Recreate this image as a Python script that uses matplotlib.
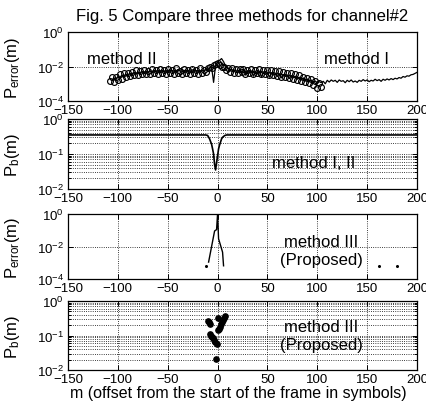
import numpy as np
import matplotlib
matplotlib.use("Agg")
import matplotlib.pyplot as plt
from matplotlib.ticker import NullLocator, FixedLocator

plt.rcParams['font.family'] = ['Liberation Sans', 'DejaVu Sans']
plt.rcParams['mathtext.fontset'] = 'custom'
plt.rcParams['mathtext.rm'] = 'Liberation Sans'
plt.rcParams['mathtext.it'] = 'Liberation Sans:italic'
plt.rcParams['mathtext.bf'] = 'Liberation Sans:bold'
plt.rcParams['mathtext.default'] = 'regular'

# ---------------- data ----------------
x_ticks = [-150, -100, -50, 0, 50, 100, 150, 200]

# Panel 1: method II (circles), log10 of P_error, m = -108..104 step 2
m2_start, m2_step = -108, 2
log_perr_method2 = [
    -2.85, -2.62, -2.90, -2.58, -2.78, -2.46, -2.70, -2.40, -2.62, -2.36,
    -2.55, -2.30, -2.48, -2.22, -2.50, -2.28, -2.44, -2.18, -2.46, -2.26,
    -2.42, -2.16, -2.38, -2.22, -2.46, -2.14, -2.36, -2.20, -2.44, -2.12,
    -2.40, -2.18, -2.44, -2.10, -2.36, -2.24, -2.42, -2.12, -2.38, -2.20,
    -2.44, -2.14, -2.36, -2.20, -2.42, -2.10, -2.38, -2.18, -2.32, -2.10,
    -2.00, -2.06, -1.90, -1.86, -1.78, -1.92, -2.04, -2.00, -2.20, -2.08,
    -2.30, -2.10, -2.36, -2.14, -2.40, -2.16, -2.34, -2.12, -2.42, -2.18,
    -2.38, -2.16, -2.44, -2.20, -2.40, -2.14, -2.46, -2.22, -2.42, -2.18,
    -2.48, -2.22, -2.50, -2.26, -2.54, -2.28, -2.58, -2.30, -2.60, -2.36,
    -2.64, -2.40, -2.70, -2.44, -2.76, -2.50, -2.82, -2.58, -2.88, -2.66,
    -2.96, -2.72, -3.10, -2.84, -3.22, -2.98, -3.20,
]

# Panel 1: method I (line), log10 of P_error, m = -106..200 step 2
m1_start, m1_step = -106, 2
log_perr_method1 = [
    -2.80, -2.66, -2.74, -2.58, -2.64, -2.50, -2.58, -2.44, -2.52, -2.40,
    -2.48, -2.36, -2.44, -2.32, -2.40, -2.30, -2.36, -2.26, -2.34, -2.24,
    -2.32, -2.22, -2.30, -2.20, -2.28, -2.20, -2.30, -2.22, -2.28, -2.18,
    -2.26, -2.20, -2.28, -2.18, -2.24, -2.16, -2.26, -2.20, -2.28, -2.18,
    -2.24, -2.16, -2.26, -2.22, -2.28, -2.20, -2.26, -2.18, -2.16, -2.10,
    -2.04, -2.92, -1.94, -1.76, -1.64, -1.54, -1.72, -1.96, -2.10, -2.20,
    -2.14, -2.30, -2.18, -2.40, -2.22, -2.36, -2.20, -2.50, -2.24, -2.38,
    -2.26, -2.56, -2.28, -2.44, -2.30, -2.60, -2.32, -2.46, -2.34, -2.62,
    -2.36, -2.50, -2.40, -2.58, -2.42, -2.66, -2.46, -2.58, -2.50, -2.70,
    -2.52, -2.66, -2.56, -2.74, -2.62, -2.78, -2.66, -2.84, -2.72, -2.88,
    -2.78, -2.92, -2.84, -2.96, -2.88, -2.94, -2.86, -3.00, -2.80, -2.90,
    -2.78, -2.86, -2.80, -2.92, -2.78, -2.86, -2.82, -2.94, -2.80, -2.88,
    -2.78, -2.90, -2.84, -2.92, -2.80, -2.86, -2.76, -2.84, -2.78, -2.88,
    -2.80, -2.84, -2.74, -2.82, -2.76, -2.86, -2.74, -2.80, -2.72, -2.78,
    -2.70, -2.76, -2.68, -2.72, -2.64, -2.68, -2.58, -2.62, -2.54, -2.56,
    -2.48, -2.46, -2.40, -2.34,
]

# Panel 2: P_b for methods I, II
pb12_m = [-150, -12, -10, -8, -6, -5, -4, -3, -2, 1, 2, 3, 4, 5, 7, 9, 200]
pb12 = [0.35, 0.35, 0.34, 0.27, 0.19, 0.14, 0.10, 0.05, 0.035, 0.14, 0.18,
        0.22, 0.27, 0.30, 0.335, 0.35, 0.35]

# Panel 3: P_error for method III
perr3_m = [-9, -3, -1, 0, 1, 5, 6]
perr3 = [1.1e-3, 0.09, 0.11, 1.0, 0.03, 4.5e-3, 6.5e-4]
perr3_dots_m = [-12, 162, 180]
perr3_dots = [6e-4, 6.5e-4, 6.5e-4]

# Panel 4: P_b for method III
pb3_m = [-10, -9, -8, -8, -7, -6, -5, -4, -3, -1, -2, 0, 1, 2, 3, 4, 5, 6, 7, 0]
pb3 = [0.27, 0.25, 0.22, 0.11, 0.10, 0.09, 0.085, 0.075, 0.065, 0.058, 0.021,
       0.14, 0.15, 0.18, 0.21, 0.25, 0.29, 0.33, 0.37, 0.32]

# ---------------- figure ----------------
W, H = 427, 414
fig = plt.figure(figsize=(W / 100, H / 100), dpi=100)

def axes_px(top, bottom, left=68, right=417):
    return fig.add_axes([left / W, 1 - bottom / H, (right - left) / W, (bottom - top) / H])

ax1 = axes_px(33, 102)
ax2 = axes_px(120, 190)
ax3 = axes_px(215, 280)
ax4 = axes_px(302, 371)

gkw = dict(color='k', linestyle=':', linewidth=0.6)

for ax in (ax1, ax2, ax3, ax4):
    ax.set_yscale('log')
    ax.set_xlim(-150, 200)
    ax.set_xticks(x_ticks)
    ax.xaxis.set_minor_locator(NullLocator())
    ax.tick_params(which='both', direction='in', top=True, right=True,
                   labelsize=9.5, width=0.7)
    ax.tick_params(axis='x', pad=2.5)
    ax.tick_params(axis='y', pad=3)
    ax.tick_params(which='major', length=3.5)
    ax.tick_params(which='minor', length=2)
    for s in ax.spines.values():
        s.set_linewidth(0.9)

for ax in (ax1, ax3):
    ax.set_ylim(1e-4, 1e0)
    ax.yaxis.set_major_locator(FixedLocator([1e-4, 1e-2, 1e0]))
    ax.yaxis.set_minor_locator(NullLocator())
    ax.grid(True, which='major', **gkw)

for ax in (ax2, ax4):
    ax.set_ylim(1e-2, 1e0)
    ax.yaxis.set_major_locator(FixedLocator([1e-2, 1e-1, 1e0]))
    ax.grid(True, which='major', axis='x', **gkw)
    ax.grid(True, which='both', axis='y', **gkw)

# Panel 1
m1 = m1_start + m1_step * np.arange(len(log_perr_method1))
m2 = m2_start + m2_step * np.arange(len(log_perr_method2))
ax1.plot(m1, 10.0 ** np.array(log_perr_method1), color='k', linewidth=0.9, zorder=3)
ax1.plot(m2, 10.0 ** np.array(log_perr_method2), linestyle='none', marker='o',
         markersize=4.2, markerfacecolor='none', markeredgecolor='k',
         markeredgewidth=0.85, zorder=4)
ax1.text(-131, 0.03, 'method II', fontsize=12, ha='left', va='center')
ax1.text(107, 0.03, 'method I', fontsize=12, ha='left', va='center')

# Panel 2
ax2.plot(pb12_m, pb12, color='k', linewidth=1.2)
ax2.text(55, 0.059, 'method I, II', fontsize=12, ha='left', va='center')

# Panel 3
ax3.plot(perr3_m, perr3, color='k', linewidth=1.0)
ax3.plot(perr3_dots_m, perr3_dots, linestyle='none', marker='o', markersize=1.2,
         color='k')
ax3.text(104, 10 ** -2.25, 'method III\n(Proposed)', fontsize=12, ha='center',
         va='center', linespacing=1.25)

# Panel 4
ax4.plot(pb3_m, pb3, linestyle='none', marker='o', markersize=3.8, color='k')
ax4.text(104, 10 ** -1.0, 'method III\n(Proposed)', fontsize=12, ha='center',
         va='center', linespacing=1.25)

# Labels
ax1.set_ylabel(r'$P_{error}(m)$', fontsize=12)
ax2.set_ylabel(r'$P_{b}(m)$', fontsize=12)
ax3.set_ylabel(r'$P_{error}(m)$', fontsize=12)
ax4.set_ylabel(r'$P_{b}(m)$', fontsize=12)
for ax in (ax1, ax2, ax3, ax4):
    ax.yaxis.set_label_coords(-0.132, 0.5)

fig.text(242.5 / W, 1 - 16 / H, 'Fig. 5 Compare three methods for channel#2',
         fontsize=12, ha='center', va='center')
fig.text(238 / W, 1 - 394 / H, 'm (offset from the start of the frame in symbols)',
         fontsize=11.5, ha='center', va='center')

fig.savefig('out.png', dpi=100)
